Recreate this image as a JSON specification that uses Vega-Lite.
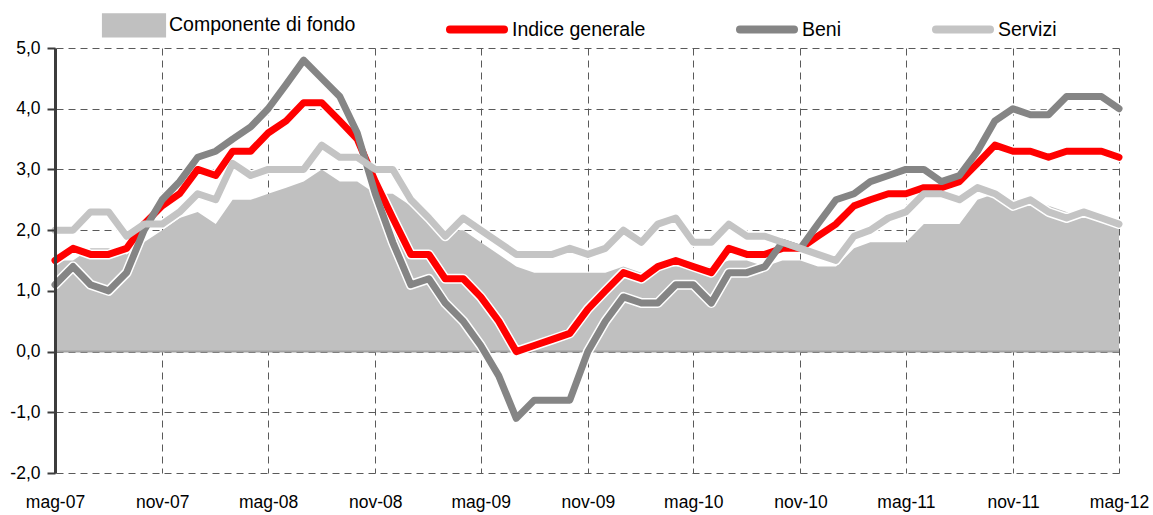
{
  "$schema": "https://vega.github.io/schema/vega-lite/v6.json",
  "width": 1064,
  "height": 425,
  "autosize": {"type": "none"},
  "padding": {"left": 55, "top": 48, "right": 34, "bottom": 42},
  "background": "white",
  "config": {
    "view": {"stroke": null},
    "font": "Liberation Sans",
    "axisX": {
      "title": null, "domain": false, "ticks": false,
      "grid": true, "gridColor": "#5a5a5a", "gridDash": [7, 5], "gridWidth": 1,
      "labelFont": "Liberation Sans", "labelFontSize": 17.5, "labelColor": "#000000",
      "labelPadding": 20, "labelAngle": 0, "labelFlush": false, "labelOverlap": false, "zindex": 0
    }
  },
  "data": {"values": [
    {"data": "2007-05-01", "Componente di fondo": 1.5, "Indice generale": 1.5, "Beni": 1.1, "Servizi": 2.0},
    {"data": "2007-06-01", "Componente di fondo": 1.5, "Indice generale": 1.7, "Beni": 1.4, "Servizi": 2.0},
    {"data": "2007-07-01", "Componente di fondo": 1.7, "Indice generale": 1.6, "Beni": 1.1, "Servizi": 2.3},
    {"data": "2007-08-01", "Componente di fondo": 1.7, "Indice generale": 1.6, "Beni": 1.0, "Servizi": 2.3},
    {"data": "2007-09-01", "Componente di fondo": 1.6, "Indice generale": 1.7, "Beni": 1.3, "Servizi": 1.9},
    {"data": "2007-10-01", "Componente di fondo": 1.8, "Indice generale": 2.1, "Beni": 2.0, "Servizi": 2.1},
    {"data": "2007-11-01", "Componente di fondo": 2.0, "Indice generale": 2.4, "Beni": 2.5, "Servizi": 2.1},
    {"data": "2007-12-01", "Componente di fondo": 2.2, "Indice generale": 2.6, "Beni": 2.8, "Servizi": 2.3},
    {"data": "2008-01-01", "Componente di fondo": 2.3, "Indice generale": 3.0, "Beni": 3.2, "Servizi": 2.6},
    {"data": "2008-02-01", "Componente di fondo": 2.1, "Indice generale": 2.9, "Beni": 3.3, "Servizi": 2.5},
    {"data": "2008-03-01", "Componente di fondo": 2.5, "Indice generale": 3.3, "Beni": 3.5, "Servizi": 3.1},
    {"data": "2008-04-01", "Componente di fondo": 2.5, "Indice generale": 3.3, "Beni": 3.7, "Servizi": 2.9},
    {"data": "2008-05-01", "Componente di fondo": 2.6, "Indice generale": 3.6, "Beni": 4.0, "Servizi": 3.0},
    {"data": "2008-06-01", "Componente di fondo": 2.7, "Indice generale": 3.8, "Beni": 4.4, "Servizi": 3.0},
    {"data": "2008-07-01", "Componente di fondo": 2.8, "Indice generale": 4.1, "Beni": 4.8, "Servizi": 3.0},
    {"data": "2008-08-01", "Componente di fondo": 3.0, "Indice generale": 4.1, "Beni": 4.5, "Servizi": 3.4},
    {"data": "2008-09-01", "Componente di fondo": 2.8, "Indice generale": 3.8, "Beni": 4.2, "Servizi": 3.2},
    {"data": "2008-10-01", "Componente di fondo": 2.8, "Indice generale": 3.5, "Beni": 3.6, "Servizi": 3.2},
    {"data": "2008-11-01", "Componente di fondo": 2.6, "Indice generale": 2.8, "Beni": 2.6, "Servizi": 3.0},
    {"data": "2008-12-01", "Componente di fondo": 2.6, "Indice generale": 2.2, "Beni": 1.8, "Servizi": 3.0},
    {"data": "2009-01-01", "Componente di fondo": 2.4, "Indice generale": 1.6, "Beni": 1.1, "Servizi": 2.5},
    {"data": "2009-02-01", "Componente di fondo": 2.2, "Indice generale": 1.6, "Beni": 1.2, "Servizi": 2.2},
    {"data": "2009-03-01", "Componente di fondo": 2.0, "Indice generale": 1.2, "Beni": 0.8, "Servizi": 1.9},
    {"data": "2009-04-01", "Componente di fondo": 2.0, "Indice generale": 1.2, "Beni": 0.5, "Servizi": 2.2},
    {"data": "2009-05-01", "Componente di fondo": 1.8, "Indice generale": 0.9, "Beni": 0.1, "Servizi": 2.0},
    {"data": "2009-06-01", "Componente di fondo": 1.6, "Indice generale": 0.5, "Beni": -0.4, "Servizi": 1.8},
    {"data": "2009-07-01", "Componente di fondo": 1.4, "Indice generale": 0.0, "Beni": -1.1, "Servizi": 1.6},
    {"data": "2009-08-01", "Componente di fondo": 1.3, "Indice generale": 0.1, "Beni": -0.8, "Servizi": 1.6},
    {"data": "2009-09-01", "Componente di fondo": 1.3, "Indice generale": 0.2, "Beni": -0.8, "Servizi": 1.6},
    {"data": "2009-10-01", "Componente di fondo": 1.3, "Indice generale": 0.3, "Beni": -0.8, "Servizi": 1.7},
    {"data": "2009-11-01", "Componente di fondo": 1.3, "Indice generale": 0.7, "Beni": 0.0, "Servizi": 1.6},
    {"data": "2009-12-01", "Componente di fondo": 1.3, "Indice generale": 1.0, "Beni": 0.5, "Servizi": 1.7},
    {"data": "2010-01-01", "Componente di fondo": 1.4, "Indice generale": 1.3, "Beni": 0.9, "Servizi": 2.0},
    {"data": "2010-02-01", "Componente di fondo": 1.3, "Indice generale": 1.2, "Beni": 0.8, "Servizi": 1.8},
    {"data": "2010-03-01", "Componente di fondo": 1.4, "Indice generale": 1.4, "Beni": 0.8, "Servizi": 2.1},
    {"data": "2010-04-01", "Componente di fondo": 1.4, "Indice generale": 1.5, "Beni": 1.1, "Servizi": 2.2},
    {"data": "2010-05-01", "Componente di fondo": 1.4, "Indice generale": 1.4, "Beni": 1.1, "Servizi": 1.8},
    {"data": "2010-06-01", "Componente di fondo": 1.4, "Indice generale": 1.3, "Beni": 0.8, "Servizi": 1.8},
    {"data": "2010-07-01", "Componente di fondo": 1.5, "Indice generale": 1.7, "Beni": 1.3, "Servizi": 2.1},
    {"data": "2010-08-01", "Componente di fondo": 1.5, "Indice generale": 1.6, "Beni": 1.3, "Servizi": 1.9},
    {"data": "2010-09-01", "Componente di fondo": 1.4, "Indice generale": 1.6, "Beni": 1.4, "Servizi": 1.9},
    {"data": "2010-10-01", "Componente di fondo": 1.5, "Indice generale": 1.7, "Beni": 1.8, "Servizi": 1.8},
    {"data": "2010-11-01", "Componente di fondo": 1.5, "Indice generale": 1.7, "Beni": 1.7, "Servizi": 1.7},
    {"data": "2010-12-01", "Componente di fondo": 1.4, "Indice generale": 1.9, "Beni": 2.1, "Servizi": 1.6},
    {"data": "2011-01-01", "Componente di fondo": 1.4, "Indice generale": 2.1, "Beni": 2.5, "Servizi": 1.5},
    {"data": "2011-02-01", "Componente di fondo": 1.7, "Indice generale": 2.4, "Beni": 2.6, "Servizi": 1.9},
    {"data": "2011-03-01", "Componente di fondo": 1.8, "Indice generale": 2.5, "Beni": 2.8, "Servizi": 2.0},
    {"data": "2011-04-01", "Componente di fondo": 1.8, "Indice generale": 2.6, "Beni": 2.9, "Servizi": 2.2},
    {"data": "2011-05-01", "Componente di fondo": 1.8, "Indice generale": 2.6, "Beni": 3.0, "Servizi": 2.3},
    {"data": "2011-06-01", "Componente di fondo": 2.1, "Indice generale": 2.7, "Beni": 3.0, "Servizi": 2.6},
    {"data": "2011-07-01", "Componente di fondo": 2.1, "Indice generale": 2.7, "Beni": 2.8, "Servizi": 2.6},
    {"data": "2011-08-01", "Componente di fondo": 2.1, "Indice generale": 2.8, "Beni": 2.9, "Servizi": 2.5},
    {"data": "2011-09-01", "Componente di fondo": 2.5, "Indice generale": 3.1, "Beni": 3.3, "Servizi": 2.7},
    {"data": "2011-10-01", "Componente di fondo": 2.6, "Indice generale": 3.4, "Beni": 3.8, "Servizi": 2.6},
    {"data": "2011-11-01", "Componente di fondo": 2.5, "Indice generale": 3.3, "Beni": 4.0, "Servizi": 2.4},
    {"data": "2011-12-01", "Componente di fondo": 2.5, "Indice generale": 3.3, "Beni": 3.9, "Servizi": 2.5},
    {"data": "2012-01-01", "Componente di fondo": 2.4, "Indice generale": 3.2, "Beni": 3.9, "Servizi": 2.3},
    {"data": "2012-02-01", "Componente di fondo": 2.3, "Indice generale": 3.3, "Beni": 4.2, "Servizi": 2.2},
    {"data": "2012-03-01", "Componente di fondo": 2.3, "Indice generale": 3.3, "Beni": 4.2, "Servizi": 2.3},
    {"data": "2012-04-01", "Componente di fondo": 2.2, "Indice generale": 3.3, "Beni": 4.2, "Servizi": 2.2},
    {"data": "2012-05-01", "Componente di fondo": 2.1, "Indice generale": 3.2, "Beni": 4.0, "Servizi": 2.1}
  ]},
  "transform": [{"fold": ["Componente di fondo", "Indice generale", "Beni", "Servizi"], "as": ["serie", "valore"]}],
  "resolve": {"axis": {"y": "independent"}},
  "layer": [
    {
      "transform": [{"filter": "datum.serie === 'Componente di fondo'"}],
      "mark": {"type": "area", "color": "#c0c0c0", "interpolate": "linear"},
      "encoding": {
        "x": {"field": "data", "type": "temporal", "timeUnit": "utcyearmonth",
          "scale": {"domain": [{"year": 2007, "month": 5, "date": 1, "utc": true}, {"year": 2012, "month": 5, "date": 1, "utc": true}]},
          "axis": {
            "values": [
              {"year": 2007, "month": 5, "date": 1, "utc": true}, {"year": 2007, "month": 11, "date": 1, "utc": true},
              {"year": 2008, "month": 5, "date": 1, "utc": true}, {"year": 2008, "month": 11, "date": 1, "utc": true},
              {"year": 2009, "month": 5, "date": 1, "utc": true}, {"year": 2009, "month": 11, "date": 1, "utc": true},
              {"year": 2010, "month": 5, "date": 1, "utc": true}, {"year": 2010, "month": 11, "date": 1, "utc": true},
              {"year": 2011, "month": 5, "date": 1, "utc": true}, {"year": 2011, "month": 11, "date": 1, "utc": true},
              {"year": 2012, "month": 5, "date": 1, "utc": true}
            ],
            "labelExpr": "(utcmonth(datum.value) == 4 ? 'mag' : 'nov') + '-' + utcFormat(datum.value, '%y')"
          }
        },
        "y": {"field": "valore", "type": "quantitative",
          "scale": {"domain": [-2, 5], "nice": false},
          "axis": {
            "orient": "right", "values": [-2, -1, 0, 1, 2, 3, 4, 5],
            "title": null, "domain": false, "ticks": false, "labels": false,
            "grid": true, "gridColor": "#5a5a5a", "gridDash": [7, 5], "gridWidth": 1, "zindex": 0
          }
        }
      }
    },
    {
      "data": {"values": [{"zero": 0}]},
      "mark": {"type": "rule", "color": "#a3a3a3", "strokeWidth": 2},
      "encoding": {"y": {"field": "zero", "type": "quantitative", "axis": null}}
    },
    {
      "transform": [{"filter": "datum.serie !== 'Componente di fondo'"}],
      "mark": {"type": "line", "color": "white", "strokeWidth": 10, "strokeJoin": "round", "strokeCap": "round"},
      "encoding": {
        "x": {"field": "data", "type": "temporal", "timeUnit": "utcyearmonth",
          "axis": {
            "values": [
              {"year": 2007, "month": 5, "date": 1, "utc": true}, {"year": 2007, "month": 11, "date": 1, "utc": true},
              {"year": 2008, "month": 5, "date": 1, "utc": true}, {"year": 2008, "month": 11, "date": 1, "utc": true},
              {"year": 2009, "month": 5, "date": 1, "utc": true}, {"year": 2009, "month": 11, "date": 1, "utc": true},
              {"year": 2010, "month": 5, "date": 1, "utc": true}, {"year": 2010, "month": 11, "date": 1, "utc": true},
              {"year": 2011, "month": 5, "date": 1, "utc": true}, {"year": 2011, "month": 11, "date": 1, "utc": true},
              {"year": 2012, "month": 5, "date": 1, "utc": true}
            ],
            "labelExpr": "(utcmonth(datum.value) == 4 ? 'mag' : 'nov') + '-' + utcFormat(datum.value, '%y')"
          }
        },
        "y": {"field": "valore", "type": "quantitative", "axis": null},
        "detail": {"field": "serie"}
      }
    },
    {
      "transform": [{"filter": "datum.serie !== 'Componente di fondo'"}],
      "mark": {"type": "line", "strokeWidth": 7, "strokeJoin": "round", "strokeCap": "round"},
      "encoding": {
        "x": {"field": "data", "type": "temporal", "timeUnit": "utcyearmonth",
          "axis": {
            "values": [
              {"year": 2007, "month": 5, "date": 1, "utc": true}, {"year": 2007, "month": 11, "date": 1, "utc": true},
              {"year": 2008, "month": 5, "date": 1, "utc": true}, {"year": 2008, "month": 11, "date": 1, "utc": true},
              {"year": 2009, "month": 5, "date": 1, "utc": true}, {"year": 2009, "month": 11, "date": 1, "utc": true},
              {"year": 2010, "month": 5, "date": 1, "utc": true}, {"year": 2010, "month": 11, "date": 1, "utc": true},
              {"year": 2011, "month": 5, "date": 1, "utc": true}, {"year": 2011, "month": 11, "date": 1, "utc": true},
              {"year": 2012, "month": 5, "date": 1, "utc": true}
            ],
            "labelExpr": "(utcmonth(datum.value) == 4 ? 'mag' : 'nov') + '-' + utcFormat(datum.value, '%y')"
          }
        },
        "y": {"field": "valore", "type": "quantitative",
          "axis": {
            "orient": "left", "values": [-2, -1, 0, 1, 2, 3, 4, 5],
            "labelExpr": "(datum.value < 0 ? '-' : '') + replace(format(abs(datum.value), '.1f'), '.', ',')",
            "title": null, "grid": false,
            "domainColor": "#3c3c3c", "domainWidth": 3,
            "tickColor": "#3c3c3c", "tickWidth": 2, "tickSize": 8,
            "labelFont": "Liberation Sans", "labelFontSize": 17.5, "labelColor": "#000000", "labelPadding": 7,
            "zindex": 1
          }
        },
        "color": {"field": "serie", "type": "nominal",
          "scale": {"domain": ["Componente di fondo", "Indice generale", "Beni", "Servizi"],
                    "range": ["#c0c0c0", "#ff0000", "#858585", "#c4c4c4"]},
          "legend": {
            "orient": "none", "legendX": 48, "legendY": -54, "direction": "horizontal", "columns": 4,
            "title": null, "padding": 0, "columnPadding": 78,
            "symbolSize": 2916, "symbolStrokeWidth": 8, "symbolType": "M-1,0H1",
            "labelFont": "Liberation Sans", "labelFontSize": 19.5, "labelColor": "#000000", "labelOffset": 4,
            "labelLimit": 400,
            "encode": {
              "symbols": {
                "update": {
                  "shape": [{"test": "datum.value === 'Componente di fondo'", "value": "M-1.04,-0.3H1.04V0.3H-1.04Z"}, {"value": "M-1,0H1"}],
                  "fill": [{"test": "datum.value === 'Componente di fondo'", "value": "#c0c0c0"}, {"value": "transparent"}],
                  "stroke": [{"test": "datum.value === 'Componente di fondo'", "value": "transparent"}, {"scale": "color", "field": "value"}],
                  "strokeWidth": {"value": 8},
                  "strokeCap": {"value": "round"},
                  "opacity": {"value": 1}
                }
              }
            }
          }
        }
      }
    }
  ]
}
